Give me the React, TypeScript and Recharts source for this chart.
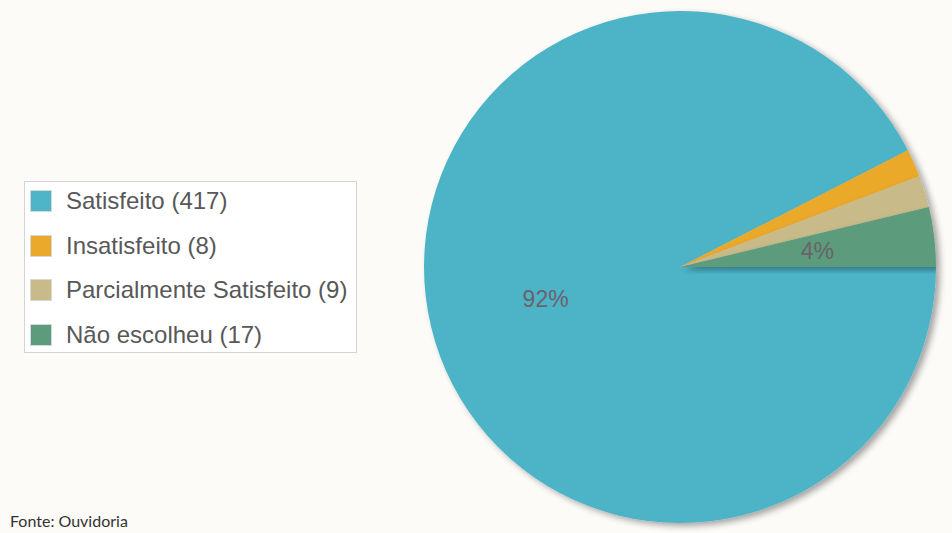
import { Cell, Pie, PieChart } from "recharts";

const categories = ["Satisfeito", "Insatisfeito", "Parcialmente Satisfeito", "Não escolheu"];
const counts = [417, 8, 9, 17];
const colors = ["#4eb4c8", "#eba92c", "#c9bb89", "#5c9b7b"];

const data = categories.map((name, i) => ({ name, value: counts[i] }));

const RADIAN = Math.PI / 180;

function renderPercent(props: any) {
  const { cx, cy, midAngle, outerRadius, percent } = props;
  if (percent < 0.03) return null;
  const r = outerRadius * 0.54;
  const x = cx + r * Math.cos(-midAngle * RADIAN);
  const y = cy + r * Math.sin(-midAngle * RADIAN);
  return (
    <text
      x={x}
      y={y}
      fill="#6a6369"
      fontSize={23}
      fontFamily="Arial, 'Liberation Sans', sans-serif"
      textAnchor="middle"
      dominantBaseline="central"
    >
      {`${Math.round(percent * 100)}%`}
    </text>
  );
}

function LegendBox() {
  return (
    <div
      style={{
        position: "absolute",
        left: 24,
        top: 181,
        width: 333,
        height: 172,
        boxSizing: "border-box",
        background: "#ffffff",
        border: "1px solid #d4d4d4",
        fontFamily: "Arial, 'Liberation Sans', sans-serif",
      }}
    >
      {data.map((d, i) => (
        <div
          key={d.name}
          style={{
            position: "absolute",
            left: 5,
            top: 7 + i * 44.7,
            height: 24,
            display: "flex",
            alignItems: "center",
            whiteSpace: "nowrap",
          }}
        >
          <span
            style={{
              width: 22,
              height: 22,
              background: colors[i],
              border: "1px solid #d8d8d8",
              boxSizing: "border-box",
              marginRight: 14,
            }}
          />
          <span style={{ fontSize: 24, color: "#585858" }}>
            {`${d.name} (${d.value})`}
          </span>
        </div>
      ))}
    </div>
  );
}

export default function App() {
  return (
    <div
      style={{
        position: "absolute",
        left: 0,
        top: 0,
        width: 952,
        height: 533,
        background: "#fcfbf8",
        overflow: "hidden",
      }}
    >
      <PieChart width={952} height={533} margin={{ top: 0, right: 0, bottom: 0, left: 0 }}>
        <defs>
          <filter id="pieShadow" x="-10%" y="-10%" width="120%" height="120%">
            <feDropShadow dx="4" dy="3" stdDeviation="3" floodColor="#000" floodOpacity="0.35" />
          </filter>
        </defs>
        <Pie
          data={data}
          dataKey="value"
          nameKey="name"
          cx={680}
          cy={267}
          outerRadius={256}
          startAngle={0}
          endAngle={-360}
          stroke="none"
          label={renderPercent}
          labelLine={false}
          isAnimationActive={false}
          style={{ filter: "url(#pieShadow)" }}
        >
          {data.map((d, i) => (
            <Cell key={d.name} fill={colors[i]} />
          ))}
        </Pie>
      </PieChart>
      <LegendBox />
      <div
        style={{
          position: "absolute",
          left: 10,
          top: 511,
          fontSize: 16,
          color: "#333",
          fontFamily: "Lato, 'Open Sans', sans-serif",
        }}
      >
        Fonte: Ouvidoria
      </div>
    </div>
  );
}
